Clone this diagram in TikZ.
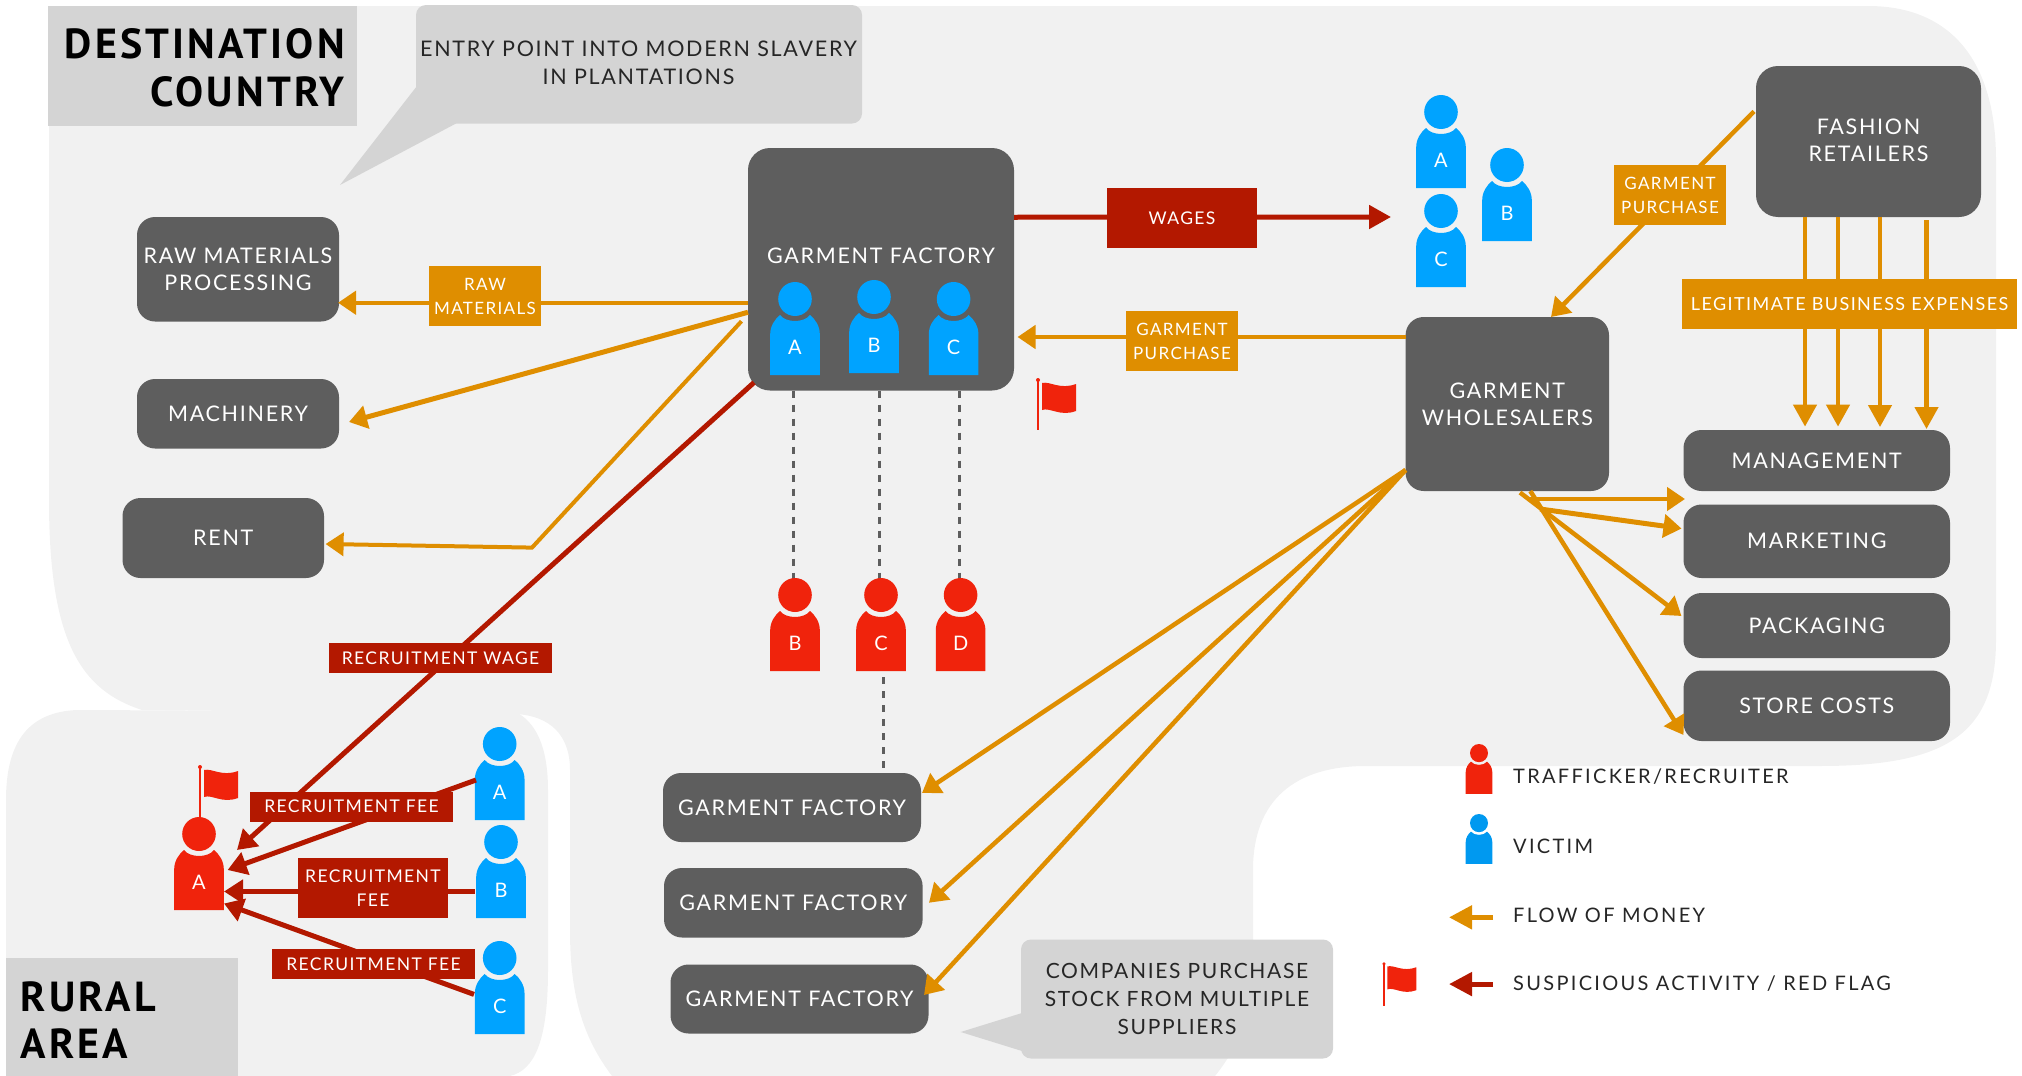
\documentclass[tikz,border=0pt]{standalone}
\usepackage{fontspec}
\usepackage{tikz}
\usetikzlibrary{arrows.meta}
\setmainfont{Lato}[LetterSpace=8]
\newfontfamily\titlefont{PT Sans}[LetterSpace=7.5]
\newfontfamily\legendfont{Lato}[LetterSpace=11.5]
\definecolor{bgfill}{HTML}{F1F1F1}
\definecolor{tagfill}{HTML}{D4D4D4}
\definecolor{boxfill}{HTML}{5E5E5E}
\definecolor{moneyorange}{HTML}{DF8E00}
\definecolor{flagdark}{HTML}{B31800}
\definecolor{trafred}{HTML}{F0230C}
\definecolor{vicblue}{HTML}{00A3FF}
\definecolor{legblue}{HTML}{0099F0}
\definecolor{inkdark}{HTML}{262626}
\tikzset{
  gbox/.style={fill=boxfill, text=white, rounded corners=18pt, inner sep=0pt, outer sep=0pt, align=center,
    font=\fontsize{21.5}{27}\selectfont},
  moneytag/.style={fill=moneyorange, text=white, inner sep=0pt, outer sep=0pt, align=center,
    font=\fontsize{17}{24}\selectfont},
  redtag/.style={fill=flagdark, text=white, inner sep=0pt, outer sep=0pt, align=center,
    font=\fontsize{17.5}{24}\selectfont},
  greybox/.style={fill=tagfill, inner sep=0pt, outer sep=0pt},
  bubble/.style={fill=tagfill, rounded corners=10pt, inner sep=0pt, outer sep=0pt},
  bubbletext/.style={text=inkdark, align=center, inner sep=0pt, font=\fontsize{21}{28}\selectfont},
  legendtext/.style={text=inkdark, anchor=base west, inner sep=0pt, font=\legendfont\fontsize{20}{24}\selectfont},
  titletext/.style={text=black, inner sep=0pt, font=\titlefont\bfseries\fontsize{42}{48}\selectfont},
  moneyline/.style={draw=moneyorange, line width=4.5pt, -{Triangle[length=18pt,width=23pt]}},
  redline/.style={draw=flagdark, line width=5pt, -{Triangle[length=19pt,width=23pt]}},
  dashline/.style={draw=boxfill, line width=3pt, dash pattern=on 7pt off 7pt},
  pics/person/.style 2 args={code={
    \fill[#1] (-24.8,93) -- (-24.8,52) .. controls (-24.8,44) and (-20,37) .. (-15,33)
      .. controls (-9,41) and (9,41) .. (15,33) .. controls (20,37) and (24.8,44) .. (24.8,52)
      -- (24.8,93) -- cycle;
    \fill[#1] (0,17) ellipse (16.8 and 17);
    \node[text=white, inner sep=0pt, font=\fontsize{20}{24}\selectfont] (-letter) at (0,65) {#2};
    \coordinate (-top) at (0,0);
    \coordinate (-foot) at (0,93);
  }},
  pics/redflag/.style={code={
    \fill[trafred] (-0.9,0) rectangle (0.9,51);
    \fill[trafred] (0,1) circle (2);
    \fill[trafred] (4,4) .. controls (12,2) and (22,11) .. (38,5) -- (38,32)
      .. controls (22,38) and (12,28) .. (4,31) -- cycle;
  }},
}
\begin{document}
\begin{tikzpicture}[x=1pt, y=-1pt]
    \useasboundingbox (0,0) rectangle (2022,1076);
    % regions
    \fill[bgfill] (49,6) -- (1868,6) .. controls (1950,6) and (1996,60) .. (1996,160) -- (1996,640)
      .. controls (1996,735) and (1945,766) .. (1820,766) -- (1366,766)
      .. controls (1295,766) and (1253,800) .. (1253,870) -- (1253,960)
      .. controls (1253,1010) and (1240,1045) .. (1215,1076) -- (612,1076)
      .. controls (585,1040) and (570,1000) .. (570,930) -- (570,770)
      .. controls (570,735) and (550,716) .. (516,714) -- (142,710)
      .. controls (80,690) and (49,640) .. (49,500) -- cycle;
    \fill[bgfill] (77,710) -- (516,712) .. controls (535,722) and (548,745) .. (548,790) -- (548,970)
      .. controls (548,1040) and (535,1070) .. (510,1076) -- (6,1076) -- (6,800)
      .. controls (6,740) and (30,712) .. (77,710) -- cycle;
    \node[greybox, minimum width=309pt, minimum height=120pt] (destbox) at (202.5,66) {};
    \node[titletext, anchor=base east] (destone) at (345,58) {DESTINATION};
    \node[titletext, anchor=base east] (desttwo) at (345,106) {COUNTRY};
    \node[greybox, minimum width=232pt, minimum height=118pt] (ruralbox) at (122,1017) {};
    \node[titletext, anchor=base west] (ruralone) at (20.5,1011) {RURAL};
    \node[titletext, anchor=base west] (ruraltwo) at (20.5,1058) {AREA};
    % speech bubbles
    \node[bubble, minimum width=446pt, minimum height=118.5pt] (entrybox) at (639,64.25) {};
    \fill[tagfill] ([shift={(0,23)}]entrybox.west) -- (340,185) -- ([shift={(-183,0)}]entrybox.south) -- cycle;
    \node[bubbletext, font=\fontsize{21.5}{28.5}\selectfont] (entrytext) at (638.5,63) {ENTRY POINT INTO MODERN SLAVERY\\IN PLANTATIONS};
    \node[bubble, bubbletext, minimum width=312pt, minimum height=119pt] (stockbox) at (1177,999) {COMPANIES PURCHASE\\STOCK FROM MULTIPLE\\SUPPLIERS};
    \fill[tagfill] ([shift={(1,14)}]stockbox.west) -- (960.7,1032) -- ([shift={(1,52)}]stockbox.west) -- cycle;
    % boxes
    \node[gbox, rounded corners=22pt, minimum width=266pt, minimum height=242.5pt] (gfactory) at (881,269.25) {};
    \node[text=white, inner sep=0pt, font=\fontsize{21.5}{27}\selectfont] (gfactorytext) at (881,256) {GARMENT FACTORY};
    \node[gbox, minimum width=202pt, minimum height=104.5pt] (rawmat) at (238,269.25) {RAW MATERIALS\\PROCESSING};
    \node[gbox, minimum width=202pt, minimum height=69.5pt] (machinery) at (238,413.75) {MACHINERY};
    \node[gbox, minimum width=201.5pt, minimum height=80pt] (rent) at (223.25,538) {RENT};
    \node[gbox, rounded corners=22pt, minimum width=225pt, minimum height=151pt] (fashion) at (1868.5,141.5) {};
    \node[text=white, align=center, inner sep=0pt, font=\fontsize{21.5}{27}\selectfont] (fashiontext) at (1868.5,140) {FASHION\\RETAILERS};
    \node[gbox, minimum width=203.4pt, minimum height=174pt] (wholesale) at (1507.3,404) {GARMENT\\WHOLESALERS};
    \node[gbox, minimum width=266.5pt, minimum height=61pt] (mgmt) at (1816.75,460.5) {MANAGEMENT};
    \node[gbox, minimum width=266.5pt, minimum height=73.5pt] (market) at (1816.75,541.25) {MARKETING};
    \node[gbox, minimum width=266.5pt, minimum height=65pt] (packag) at (1816.75,625.5) {PACKAGING};
    \node[gbox, minimum width=266.5pt, minimum height=70.5pt] (store) at (1816.75,705.75) {STORE COSTS};
    \node[gbox, minimum width=258pt, minimum height=69pt] (gfone) at (792,807.5) {GARMENT FACTORY};
    \node[gbox, minimum width=258.6pt, minimum height=69.5pt] (gftwo) at (793.3,902.75) {GARMENT FACTORY};
    \node[gbox, minimum width=258pt, minimum height=69pt] (gfthree) at (799.5,999) {GARMENT FACTORY};
    % traffickers hang off the factory on dashed lines
    \coordinate (trafbtop) at (795,578);
    \coordinate (trafctop) at (881,578);
    \coordinate (trafdtop) at (960.6,578);
    \draw[dashline] (gfactory.south -| 793,0) -- ([shift={(-2,36)}]trafbtop);
    \draw[dashline] (gfactory.south -| 879.5,0) -- ([shift={(-1.5,36)}]trafctop);
    \draw[dashline] (gfactory.south -| 959,0) -- ([shift={(-1.6,36)}]trafdtop);
    \pic (trafb) at (trafbtop) {person={trafred}{B}};
    \pic (trafc) at (trafctop) {person={trafred}{C}};
    \pic (trafd) at (trafdtop) {person={trafred}{D}};
    \draw[dashline] ([shift={(2,6)}]trafc-foot) -- (gfone.north -| 883,0);
    % victims
    \pic (faca) at (795,282) {person={vicblue}{A}};
    \pic (facb) at (874,280) {person={vicblue}{B}};
    \pic (facc) at (953.6,282) {person={vicblue}{C}};
    \pic (waga) at (1441,95) {person={vicblue}{A}};
    \pic (wagb) at (1507,148) {person={vicblue}{B}};
    \pic (wagc) at (1441,194) {person={vicblue}{C}};
    \pic (rura) at (499.7,727) {person={vicblue}{A}};
    \pic (rurb) at (501,825) {person={vicblue}{B}};
    \pic (rurc) at (499.7,941) {person={vicblue}{C}};
    \pic (trafa) at (199,817) {person={trafred}{A}};
    \pic at (1038,379) {redflag};
    \pic at (200,766) {redflag};
    \pic[scale=0.85] at (1384,963) {redflag};
    % flow of money
    \draw[moneyline] ([shift={(0,33.5)}]gfactory.west) -- ([shift={(-1,33.5)}]rawmat.east);
    \draw[moneyline, line width=5pt] ([shift={(0,43)}]gfactory.west) -- ([shift={(10,8.25)}]machinery.east);
    \coordinate (rentbend) at (532,547.6);
    \draw[moneyline, line width=4pt] ([shift={(-6.5,52)}]gfactory.west) -- (rentbend) -- ([shift={(1.6,6)}]rent.east);
    \draw[moneyline] ([shift={(0,-67)}]wholesale.west) -- ([shift={(3.5,67.75)}]gfactory.east);
    \draw[moneyline] ([shift={(-2,-30)}]fashion.west) -- ([shift={(43.7,0)}]wholesale.north);
    \foreach \fx/\mx/\ty/\my in {-63.5/-11.75/0/-3.4, -30.5/21.25/0/-3.4, 11.5/63.25/0/-3, 58/109.75/3/-1}{
      \draw[moneyline, -{Triangle[length=22pt,width=23pt]}] ([shift={(\fx,\ty)}]fashion.south) -- ([shift={(\mx,\my)}]mgmt.north);
    }
    \draw[moneyline] ([shift={(23,8)}]wholesale.south) -- ([shift={(1.5,38.5)}]mgmt.west);
    \draw[moneyline, line width=5pt] ([shift={(32.7,18)}]wholesale.south) -- ([shift={(-2,-12.75)}]market.west);
    \draw[moneyline] ([shift={(12.7,1.5)}]wholesale.south) -- ([shift={(-2,-9.5)}]packag.west);
    \draw[moneyline] ([shift={(23,0)}]wholesale.south) -- ([shift={(0,29.25)}]store.west);
    \draw[moneyline] ([shift={(0,66)}]wholesale.west) -- ([shift={(1,-14.5)}]gfone.east);
    \draw[moneyline] ([shift={(0,66)}]wholesale.west) -- ([shift={(6.4,0)}]gftwo.east);
    \draw[moneyline] ([shift={(0,66)}]wholesale.west) -- ([shift={(-4.5,-4)}]gfthree.east);
    % suspicious flows
    \coordinate (wagesend) at (1391,217);
    \draw[redline, -{Triangle[length=22pt,width=23pt]}] ([shift={(0,-52)}]gfactory.east) -- (wagesend);
    \draw[redline] ([shift={(6,-8)}]gfactory.south west) -- ([shift={(38,33)}]trafa-top);
    \draw[redline] ([shift={(-23.7,53)}]rura-top) -- ([shift={(28.6,53)}]trafa-top);
    \draw[redline] ([shift={(-26.5,66.5)}]rurb-top) -- ([shift={(25,74.5)}]trafa-top);
    \draw[redline] ([shift={(-25.7,53.4)}]rurc-top) -- ([shift={(25,86.5)}]trafa-top);
    % tags on the lines
    \node[moneytag, minimum width=112pt, minimum height=60pt] (rawtag) at (485,296) {RAW\\MATERIALS};
    \node[moneytag, minimum width=112pt, minimum height=60pt] (buytagone) at (1182,341) {GARMENT\\PURCHASE};
    \node[moneytag, minimum width=112pt, minimum height=60pt] (buytagtwo) at (1670,195) {GARMENT\\PURCHASE};
    \node[moneytag, font=\fontsize{18}{24}\selectfont, minimum width=335pt, minimum height=50pt] (legittag) at (1849.5,304) {LEGITIMATE BUSINESS EXPENSES};
    \node[redtag, minimum width=150pt, minimum height=60pt] (wagestag) at (1182,218) {WAGES};
    \node[redtag, minimum width=223pt, minimum height=30pt] (recwage) at (440.5,658) {RECRUITMENT WAGE};
    \node[redtag, minimum width=203pt, minimum height=30pt] (feeone) at (351.5,806.5) {RECRUITMENT FEE};
    \node[redtag, minimum width=150pt, minimum height=60pt] (feetwo) at (373,888) {RECRUITMENT\\FEE};
    \node[redtag, minimum width=203pt, minimum height=30pt] (feethree) at (373.5,964) {RECRUITMENT FEE};
    % legend
    \pic[scale=0.535] at (1479,744) {person={trafred}{}};
    \pic[scale=0.535] at (1479,814) {person={legblue}{}};
    \node[legendtext] (legtraf) at (1513,783.5) {TRAFFICKER/RECRUITER};
    \node[legendtext] (legvic) at (1513,853) {VICTIM};
    \node[legendtext] (legmoney) at (1513,922.5) {FLOW OF MONEY};
    \node[legendtext] (legflag) at (1513,990) {SUSPICIOUS ACTIVITY / RED FLAG};
    \draw[moneyline, line width=5pt, -{Triangle[length=23pt,width=23pt]}] ([shift={(-20,2)}]legmoney.west) -- ([shift={(-64,2)}]legmoney.west);
    \draw[redline, line width=5pt, -{Triangle[length=23pt,width=23pt]}] ([shift={(-20,1)}]legflag.west) -- ([shift={(-64,1)}]legflag.west);
\end{tikzpicture}
\end{document}
